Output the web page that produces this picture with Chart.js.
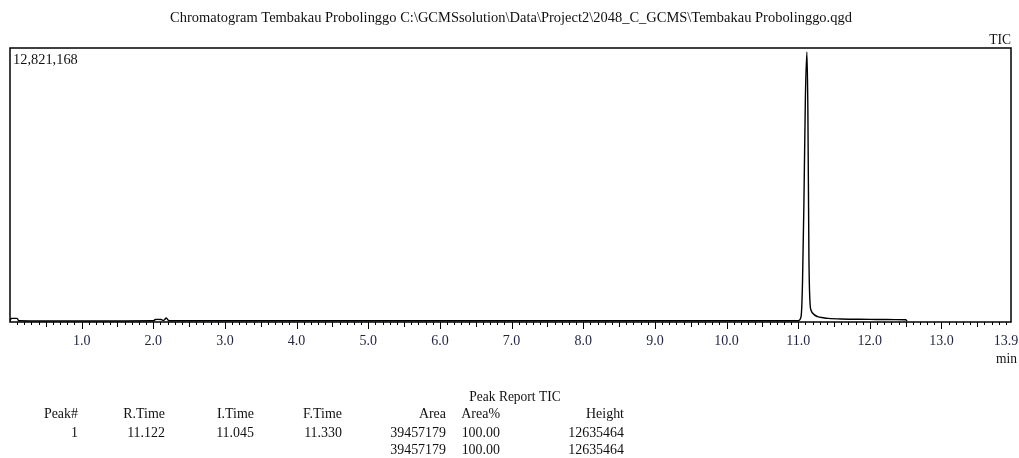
<!DOCTYPE html>
<html>
<head>
<meta charset="utf-8">
<script src="https://cdn.jsdelivr.net/npm/chart.js@4/dist/chart.umd.min.js"></script>
<style>
  html, body { margin: 0; padding: 0; background: #fff; }
  #wrap { position: relative; width: 1019px; height: 458px; }
</style>
</head>
<body>
<div id="wrap"><canvas id="chrom" width="1019" height="458"></canvas></div>
<script>
// Total ion chromatogram: retention time (min) and intensity
const times = [0, 0.02, 0.10, 0.12, 0.5, 1.0, 1.5, 2.0, 2.03, 2.06, 2.11, 2.14, 2.16, 2.18, 2.21, 2.25,
  3.0, 4.0, 5.0, 6.0, 7.0, 8.0, 9.0, 10.0, 10.8, 11.0, 11.04, 11.06, 11.08, 11.10, 11.122,
  11.135, 11.15, 11.165, 11.18, 11.20, 11.27, 11.35, 11.42, 11.6, 12.0, 12.2, 12.35, 12.5, 12.52];
const intensities = [60000, 170000, 170000, 60000, 50000, 50000, 50000, 55000, 120000, 125000, 120000, 70000, 120000, 190000, 80000, 55000,
  55000, 55000, 55000, 55000, 55000, 55000, 55000, 55000, 55000, 60000, 250000, 1800000, 5600000, 10400000, 12635464,
  10000000, 3000000, 900000, 550000, 420000, 250000, 200000, 170000, 140000, 125000, 115000, 110000, 105000, 50000];

// Axis settings
const xTickValues = [1, 2, 3, 4, 5, 6, 7, 8, 9, 10, 11, 12, 13, 13.9];
const xEndValue = 13.97;
const yMaxValue = 12821168;
const yMaxLabel = '12,821,168';
const xUnitLabel = 'min';
const traceLabel = 'TIC';
const titleText = 'Chromatogram Tembakau Probolinggo C:\\GCMSsolution\\Data\\Project2\\2048_C_GCMS\\Tembakau Probolinggo.qgd';

// Peak report
const reportTitle = 'Peak Report TIC';
const reportHeaders = ['Peak#', 'R.Time', 'I.Time', 'F.Time', 'Area', 'Area%', 'Height'];
const peakRow = ['1', '11.122', '11.045', '11.330', '39457179', '100.00', '12635464'];
const totalRow = ['', '', '', '', '39457179', '100.00', '12635464'];

const serif = '"Liberation Serif", "DejaVu Serif", serif';
const points = times.map((t, i) => ({ x: t, y: intensities[i] }));

// narrow serif text: larger size squeezed to a fixed width
function squeezed(ctx, txt, x, y, size, ratio) {
  ctx.font = size + 'px ' + serif;
  const w = ctx.measureText(txt).width * ratio;
  ctx.fillText(txt, x, y, w);
}

const decorations = {
  id: 'decorations',
  afterDraw(chart) {
    const ctx = chart.ctx;
    const a = chart.chartArea;
    const xs = chart.scales.x;
    ctx.save();
    // frame
    ctx.strokeStyle = '#000';
    ctx.lineWidth = 1.5;
    ctx.strokeRect(a.left, a.top, a.right - a.left, a.bottom - a.top);
    // tick marks every 0.1 min, longer at half and whole minutes
    ctx.lineWidth = 1;
    for (let i = 1; i / 10 <= xEndValue; i++) {
      const px = Math.round(xs.getPixelForValue(i / 10)) + 0.5;
      const len = i % 10 === 0 ? 7 : (i % 5 === 0 ? 5 : 3);
      ctx.beginPath();
      ctx.moveTo(px, a.bottom);
      ctx.lineTo(px, a.bottom + len);
      ctx.stroke();
    }
    ctx.fillStyle = '#111';
    ctx.textBaseline = 'middle';
    // title
    ctx.textAlign = 'center';
    squeezed(ctx, titleText, 511, 18, 15, 0.965);
    // labels around plot
    ctx.textAlign = 'right';
    squeezed(ctx, traceLabel, 1011, 40, 15, 0.9);
    squeezed(ctx, xUnitLabel, 1017, 359, 15, 0.9);
    ctx.textAlign = 'left';
    squeezed(ctx, yMaxLabel, a.left + 3, 60, 15, 0.96);
    // report table
    ctx.textAlign = 'center';
    squeezed(ctx, reportTitle, 515, 397, 15, 0.9);
    const colRight = [78, 165, 254, 342, 446, 500, 624];
    ctx.textAlign = 'right';
    [reportHeaders, peakRow, totalRow].forEach((row, r) => {
      const y = [414, 433, 450][r];
      row.forEach((txt, c) => { if (txt) squeezed(ctx, txt, colRight[c], y, 15, 0.93); });
    });
    ctx.restore();
  }
};

new Chart(document.getElementById('chrom'), {
  type: 'line',
  data: {
    datasets: [{
      label: traceLabel,
      data: points,
      borderColor: '#000',
      borderWidth: 1.4,
      pointRadius: 0,
      fill: false,
      cubicInterpolationMode: 'monotone'
    }]
  },
  options: {
    responsive: false,
    animation: false,
    layout: { padding: { left: 10, right: 8, top: 48, bottom: 0 } },
    plugins: { legend: { display: false }, tooltip: { enabled: false } },
    scales: {
      x: {
        type: 'linear',
        min: 0,
        max: xEndValue,
        afterBuildTicks(scale) {
          scale.ticks = xTickValues.map(v => ({ value: v }));
        },
        afterFit(scale) {
          scale.height = 136;
          scale.paddingLeft = 0;
          scale.paddingRight = 0;
        },
        border: { display: false },
        grid: { display: false, drawTicks: false },
        ticks: {
          autoSkip: false,
          maxRotation: 0,
          padding: 11,
          color: '#1f2340',
          font: { family: serif, size: 14 },
          callback: v => v.toFixed(1)
        }
      },
      y: {
        display: false,
        min: 0,
        max: yMaxValue
      }
    }
  },
  plugins: [decorations]
});
</script>
</body>
</html>
